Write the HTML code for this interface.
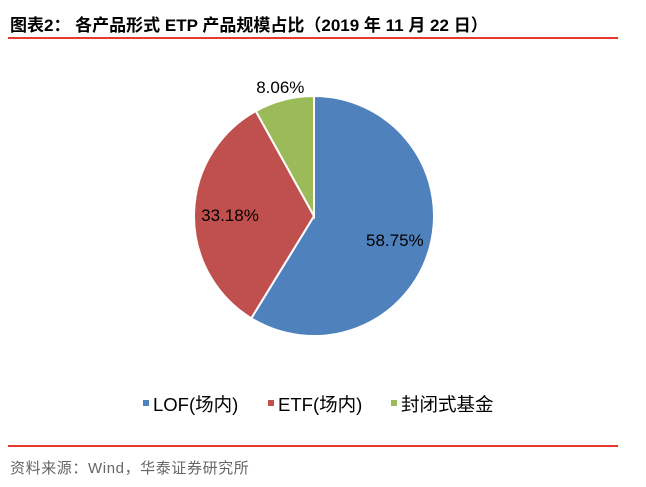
<!DOCTYPE html>
<html><head><meta charset="utf-8"><style>
body{margin:0;width:646px;height:487px;background:#fff;font-family:"Liberation Sans","Noto Sans CJK SC",sans-serif;position:relative;overflow:hidden}
.t{position:absolute;left:10px;top:11px;font-size:17px;font-weight:bold;color:#000;white-space:nowrap}
.line{position:absolute;left:8px;width:610px;height:2px;background:#e8382f}
.src{position:absolute;left:10px;top:457px;font-size:15px;letter-spacing:0.6px;color:#666}
</style></head><body>
<div class="t">图表2： 各产品形式 ETP 产品规模占比（2019 年 11 月 22 日）</div>
<div class="line" style="top:37px"></div>
<svg id="c" width="646" height="487" style="position:absolute;left:0;top:0"></svg>
<div class="line" style="top:445px"></div>
<div class="src">资料来源：Wind，华泰证券研究所</div>
<script>
const categories=["LOF(场内)","ETF(场内)","封闭式基金"];
const values=[58.75,33.18,8.06];
const labels=["58.75%","33.18%","8.06%"];
const colors=["#4f81bd","#c0504d","#9bbb59"];
const svg=document.getElementById('c');const NS="http://www.w3.org/2000/svg";
const cx=314,cy=216,r=120;const total=values.reduce((a,b)=>a+b,0);
let a0=-Math.PI/2;
const labelPos=[0.7,0.7,1.12];
values.forEach((v,i)=>{
 const a1=a0+v/total*2*Math.PI;
 const p=document.createElementNS(NS,'path');
 const x0=cx+r*Math.cos(a0),y0=cy+r*Math.sin(a0),x1=cx+r*Math.cos(a1),y1=cy+r*Math.sin(a1);
 p.setAttribute('d',`M${cx},${cy}L${x0},${y0}A${r},${r} 0 ${a1-a0>Math.PI?1:0} 1 ${x1},${y1}Z`);
 p.setAttribute('fill',colors[i]);p.setAttribute('stroke','#fff');p.setAttribute('stroke-width','2');
 
 
 svg.appendChild(p);
 const am=(a0+a1)/2,k=labelPos[i];
 const t=document.createElementNS(NS,'text');
 t.setAttribute('x',cx+r*k*Math.cos(am));t.setAttribute('y',cy+r*k*Math.sin(am)+7);
 t.setAttribute('text-anchor','middle');t.setAttribute('font-size','17');t.setAttribute('fill','#000');
 t.setAttribute('font-family','Liberation Sans, sans-serif');
 t.textContent=labels[i];
 
 
 svg.appendChild(t);
 a0=a1;
});
const lx=[143,268,391];
categories.forEach((c,i)=>{
 const s=document.createElementNS(NS,'rect');
 s.setAttribute('x',lx[i]);s.setAttribute('y',400);s.setAttribute('width',6);s.setAttribute('height',6);s.setAttribute('fill',colors[i]);
 
 
 svg.appendChild(s);
 const t=document.createElementNS(NS,'text');
 t.setAttribute('x',lx[i]+10);t.setAttribute('y',411);t.setAttribute('font-size','18.5');
 t.setAttribute('font-family','Liberation Sans, Noto Sans CJK SC, sans-serif');
 t.textContent=c;
 
 
 svg.appendChild(t);
});
</script>
</body></html>
